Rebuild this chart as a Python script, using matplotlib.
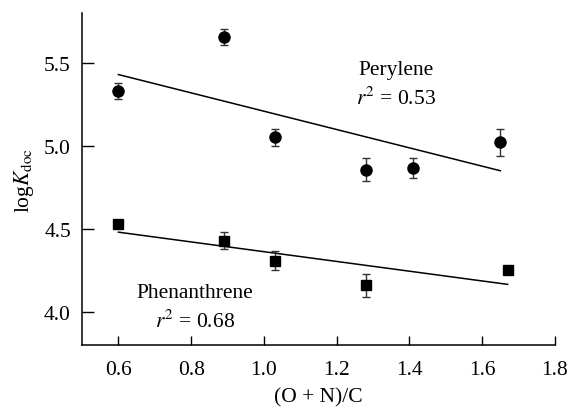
import numpy as np
import matplotlib
matplotlib.use("Agg")
from matplotlib import pyplot as plt

plt.rcParams['font.family'] = ['Liberation Serif', 'DejaVu Serif']
plt.rcParams['mathtext.fontset'] = 'stix'

# perylene (circles)
per_x = [0.60, 0.89, 1.03, 1.28, 1.41, 1.65]
per_y = [5.33, 5.655, 5.05, 4.855, 4.865, 5.02]
per_err = [0.05, 0.05, 0.05, 0.07, 0.06, 0.08]

# phenanthrene (squares)
phe_x = [0.60, 0.89, 1.03, 1.28, 1.67]
phe_y = [4.526, 4.428, 4.309, 4.159, 4.251]
phe_err = [0.012, 0.05, 0.06, 0.07, 0.02]

xticks = [0.6, 0.8, 1.0, 1.2, 1.4, 1.6, 1.8]
yticks = [4.0, 4.5, 5.0, 5.5]

fs = 15.5

fig = plt.figure(figsize=(5.68, 4.10), dpi=100)
ax = fig.add_axes([0.1444, 0.156, 0.8326, 0.810])

ax.errorbar(per_x, per_y, yerr=per_err, fmt='o', color='black', ms=8,
            ecolor='#333333', elinewidth=1, capsize=3, capthick=1)
ax.errorbar(phe_x, phe_y, yerr=phe_err, fmt='s', color='black', ms=7,
            ecolor='#333333', elinewidth=1, capsize=3, capthick=1)

# linear fits
for xs, ys in [(per_x, per_y), (phe_x, phe_y)]:
    k, b = np.polyfit(xs, ys, 1)
    xx = np.array([min(xs), max(xs)])
    ax.plot(xx, k * xx + b, color='black', lw=1.1)

ax.text(1.362, 5.458, 'Perylene', fontsize=fs, ha='center', va='center')
ax.text(1.362, 5.29, '$r^2$ = 0.53', fontsize=fs, ha='center', va='center')
ax.text(0.81, 4.114, 'Phenanthrene', fontsize=fs, ha='center', va='center')
ax.text(0.81, 3.946, '$r^2$ = 0.68', fontsize=fs, ha='center', va='center')

ax.set_xlim(0.5, 1.8)
ax.set_ylim(3.8, 5.8)
ax.set_xticks(xticks)
ax.set_xticklabels(['%.1f' % v for v in xticks])
ax.set_yticks(yticks)
ax.set_yticklabels(['%.1f' % v for v in yticks])
ax.tick_params(axis='both', direction='in', labelsize=fs, width=1, colors='black')
ax.tick_params(axis='y', length=8.5, pad=8)
ax.tick_params(axis='x', length=6.5, pad=11)

ax.spines['top'].set_visible(False)
ax.spines['right'].set_visible(False)
ax.spines['left'].set_linewidth(1.1)
ax.spines['bottom'].set_linewidth(1.1)

ax.set_xlabel('(O + N)/C', fontsize=fs, labelpad=6)
ax.set_ylabel(r'log$K_{\rm doc}$', fontsize=fs, labelpad=6)

fig.savefig('out.png', dpi=100)
